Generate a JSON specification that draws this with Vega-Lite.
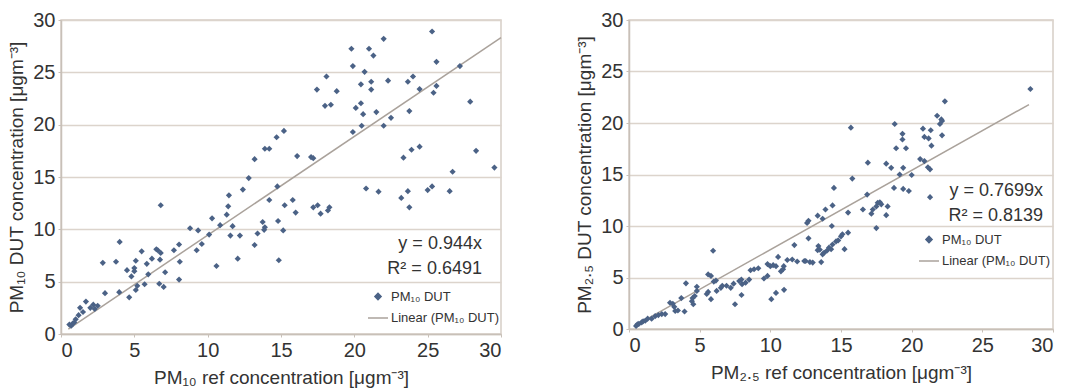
{
  "$schema": "https://vega.github.io/schema/vega-lite/v6.json",
  "padding": {"top": 9, "left": 7, "right": 2, "bottom": 2},
  "background": "white",
  "config": {
    "font": "Liberation Sans",
    "view": {"stroke": "#d6cec6", "strokeWidth": 1.5},
    "axis": {
      "labelFont": "Liberation Sans", "titleFont": "Liberation Sans",
      "labelFontSize": 20, "titleFontSize": 19, "titleFontWeight": "normal",
      "labelColor": "#333333", "titleColor": "#333333",
      "domainColor": "#c8c0b8", "domainWidth": 1.5, "tickColor": "#c8c0b8",
      "gridColor": "#dcd4cc", "gridWidth": 1.5, "tickSize": 3, "labelPadding": 3
    },
    "legend": {"labelFont": "Liberation Sans", "labelFontSize": 13, "labelColor": "#333333", "rowPadding": 3, "labelOffset": 2, "symbolStrokeWidth": 1.5}
  },
  "datasets": {
    "pm10": [
      {"x":0.57,"y":0.9},{"x":0.7,"y":0.8},{"x":0.8,"y":1.0},{"x":0.9,"y":1.1},{"x":1.0,"y":1.4},{"x":1.2,"y":1.8},{"x":1.3,"y":2.5},{"x":1.5,"y":2.1},{"x":1.7,"y":3.1},{"x":2.0,"y":2.5},{"x":2.2,"y":2.8},{"x":2.3,"y":2.4},{"x":2.5,"y":2.7},{"x":2.85,"y":6.8},{"x":3.0,"y":3.9},{"x":3.75,"y":6.9},{"x":3.97,"y":4.0},{"x":4.0,"y":8.8},{"x":4.5,"y":6.1},{"x":4.65,"y":3.5},{"x":4.8,"y":5.5},{"x":5.0,"y":6.3},{"x":5.0,"y":6.0},{"x":5.1,"y":7.0},{"x":5.1,"y":4.2},{"x":5.2,"y":4.6},{"x":5.5,"y":7.9},{"x":5.7,"y":4.75},{"x":5.85,"y":6.7},{"x":5.95,"y":5.7},{"x":6.2,"y":7.2},{"x":6.5,"y":8.1},{"x":6.6,"y":8.0},{"x":6.7,"y":4.8},{"x":6.75,"y":7.1},{"x":6.8,"y":7.75},{"x":6.8,"y":12.3},{"x":7.0,"y":4.5},{"x":7.1,"y":5.9},{"x":7.7,"y":8.0},{"x":8.05,"y":8.55},{"x":8.1,"y":6.9},{"x":8.05,"y":5.2},{"x":8.8,"y":10.1},{"x":9.25,"y":8.0},{"x":9.35,"y":9.9},{"x":9.6,"y":8.6},{"x":10.1,"y":9.5},{"x":10.3,"y":11.05},{"x":10.6,"y":6.5},{"x":10.85,"y":10.4},{"x":11.3,"y":11.4},{"x":11.4,"y":12.2},{"x":11.45,"y":13.25},{"x":11.55,"y":9.4},{"x":11.7,"y":10.3},{"x":12.05,"y":7.2},{"x":12.2,"y":9.4},{"x":12.4,"y":13.8},{"x":12.8,"y":14.9},{"x":13.2,"y":16.7},{"x":13.2,"y":8.5},{"x":13.4,"y":9.6},{"x":13.75,"y":10.7},{"x":13.85,"y":9.95},{"x":13.9,"y":10.2},{"x":13.9,"y":17.7},{"x":14.2,"y":17.7},{"x":14.2,"y":12.8},{"x":14.75,"y":14.1},{"x":14.7,"y":18.8},{"x":14.8,"y":10.8},{"x":14.85,"y":7.05},{"x":15.15,"y":9.9},{"x":15.2,"y":19.4},{"x":15.25,"y":12.3},{"x":15.8,"y":12.8},{"x":16.0,"y":11.6},{"x":16.1,"y":17.0},{"x":17.05,"y":16.9},{"x":17.2,"y":16.8},{"x":17.2,"y":12.1},{"x":17.45,"y":23.35},{"x":17.5,"y":12.3},{"x":17.7,"y":11.5},{"x":18.0,"y":21.8},{"x":18.1,"y":24.6},{"x":18.2,"y":11.8},{"x":18.3,"y":12.1},{"x":18.4,"y":21.9},{"x":18.8,"y":23.2},{"x":19.8,"y":27.25},{"x":19.9,"y":25.6},{"x":19.9,"y":19.3},{"x":20.1,"y":21.6},{"x":20.45,"y":23.85},{"x":20.45,"y":22.05},{"x":20.5,"y":19.9},{"x":20.6,"y":21.0},{"x":20.7,"y":25.05},{"x":20.8,"y":13.9},{"x":21.0,"y":27.25},{"x":21.15,"y":24.1},{"x":21.15,"y":23.35},{"x":21.3,"y":26.6},{"x":21.5,"y":21.2},{"x":21.65,"y":13.6},{"x":22.0,"y":28.2},{"x":22.0,"y":19.9},{"x":22.3,"y":24.2},{"x":22.5,"y":20.65},{"x":23.2,"y":13.0},{"x":23.35,"y":16.85},{"x":23.65,"y":24.1},{"x":23.65,"y":13.65},{"x":23.75,"y":21.3},{"x":23.75,"y":12.1},{"x":23.9,"y":17.6},{"x":24.0,"y":24.6},{"x":24.45,"y":23.4},{"x":24.45,"y":17.9},{"x":25.0,"y":13.75},{"x":25.3,"y":28.9},{"x":25.3,"y":14.1},{"x":25.4,"y":23.05},{"x":25.6,"y":26.0},{"x":25.6,"y":23.7},{"x":26.5,"y":13.65},{"x":26.7,"y":15.5},{"x":27.2,"y":25.6},{"x":27.9,"y":22.2},{"x":28.3,"y":17.5},{"x":29.55,"y":15.9}
    ],
    "pm25": [
      {"x":0.5,"y":0.3},{"x":0.6,"y":0.45},{"x":0.7,"y":0.5},{"x":0.9,"y":0.65},{"x":1.0,"y":0.75},{"x":1.15,"y":0.8},{"x":1.32,"y":1.0},{"x":1.6,"y":1.0},{"x":1.85,"y":1.25},{"x":2.08,"y":1.35},{"x":2.32,"y":1.45},{"x":2.56,"y":1.45},{"x":2.9,"y":2.55},{"x":3.1,"y":2.45},{"x":3.2,"y":2.15},{"x":3.27,"y":1.75},{"x":3.46,"y":1.8},{"x":3.7,"y":3.0},{"x":3.93,"y":1.7},{"x":4.03,"y":4.43},{"x":4.45,"y":2.7},{"x":4.55,"y":2.4},{"x":4.5,"y":3.0},{"x":4.65,"y":3.2},{"x":4.8,"y":3.7},{"x":4.8,"y":4.1},{"x":5.5,"y":3.4},{"x":5.6,"y":5.3},{"x":5.6,"y":3.6},{"x":5.8,"y":5.15},{"x":5.8,"y":2.9},{"x":5.95,"y":7.6},{"x":6.0,"y":4.6},{"x":6.15,"y":4.7},{"x":6.2,"y":3.7},{"x":6.5,"y":4.0},{"x":6.6,"y":4.2},{"x":6.9,"y":4.2},{"x":7.2,"y":4.0},{"x":7.4,"y":4.4},{"x":7.5,"y":2.4},{"x":7.8,"y":4.65},{"x":7.95,"y":4.8},{"x":7.96,"y":3.3},{"x":8.0,"y":4.35},{"x":8.25,"y":4.5},{"x":8.5,"y":4.8},{"x":8.6,"y":5.7},{"x":8.85,"y":5.8},{"x":9.15,"y":5.9},{"x":9.55,"y":4.9},{"x":9.8,"y":5.15},{"x":9.8,"y":6.3},{"x":10.0,"y":6.1},{"x":10.07,"y":2.9},{"x":10.2,"y":6.2},{"x":10.4,"y":3.5},{"x":10.4,"y":6.1},{"x":10.55,"y":7.0},{"x":10.75,"y":5.6},{"x":10.9,"y":5.8},{"x":10.97,"y":3.8},{"x":10.95,"y":6.1},{"x":11.2,"y":6.7},{"x":11.55,"y":6.75},{"x":11.7,"y":8.15},{"x":11.9,"y":6.55},{"x":12.4,"y":6.6},{"x":12.5,"y":6.6},{"x":12.6,"y":10.3},{"x":12.7,"y":8.8},{"x":12.8,"y":6.5},{"x":12.7,"y":10.5},{"x":13.0,"y":6.45},{"x":13.35,"y":11.0},{"x":13.35,"y":7.65},{"x":13.4,"y":8.05},{"x":13.5,"y":7.7},{"x":13.6,"y":6.5},{"x":13.7,"y":7.25},{"x":13.7,"y":10.7},{"x":13.8,"y":7.4},{"x":13.9,"y":11.6},{"x":14.0,"y":7.6},{"x":14.15,"y":7.9},{"x":14.3,"y":7.75},{"x":14.35,"y":10.0},{"x":14.4,"y":8.2},{"x":14.4,"y":12.0},{"x":14.5,"y":13.7},{"x":14.65,"y":8.5},{"x":14.8,"y":8.6},{"x":15.0,"y":9.0},{"x":15.1,"y":9.2},{"x":15.25,"y":7.75},{"x":15.5,"y":9.35},{"x":15.5,"y":11.3},{"x":15.7,"y":19.55},{"x":15.8,"y":14.6},{"x":16.55,"y":11.6},{"x":16.85,"y":13.05},{"x":16.9,"y":16.15},{"x":17.15,"y":11.2},{"x":17.25,"y":11.6},{"x":17.5,"y":11.9},{"x":17.5,"y":9.8},{"x":17.6,"y":12.25},{"x":17.75,"y":12.3},{"x":17.85,"y":12.1},{"x":18.2,"y":16.05},{"x":18.2,"y":11.05},{"x":18.3,"y":11.9},{"x":18.55,"y":15.65},{"x":18.75,"y":13.7},{"x":18.8,"y":19.9},{"x":18.9,"y":17.55},{"x":19.15,"y":15.0},{"x":19.35,"y":18.95},{"x":19.35,"y":18.4},{"x":19.4,"y":15.65},{"x":19.4,"y":13.6},{"x":19.6,"y":17.55},{"x":19.8,"y":13.4},{"x":20.0,"y":14.95},{"x":20.6,"y":16.5},{"x":20.8,"y":19.45},{"x":20.9,"y":16.3},{"x":20.9,"y":18.65},{"x":21.15,"y":15.7},{"x":21.2,"y":18.5},{"x":21.3,"y":15.5},{"x":21.3,"y":12.8},{"x":21.35,"y":19.3},{"x":21.4,"y":17.8},{"x":21.8,"y":20.7},{"x":22.0,"y":19.9},{"x":22.1,"y":20.35},{"x":22.15,"y":20.2},{"x":22.15,"y":18.8},{"x":22.35,"y":22.1},{"x":28.4,"y":23.3}
    ],
    "fit10": [{"x":0.5,"y":0.472,"series":"Linear (PM₁₀ DUT)"},{"x":30,"y":28.32,"series":"Linear (PM₁₀ DUT)"}],
    "fit25": [{"x":0.5,"y":0.385,"series":"Linear (PM₁₀ DUT)"},{"x":28.3,"y":21.79,"series":"Linear (PM₁₀ DUT)"}],
    "ann10": [{"x":28.7,"y":8.6,"t":"y = 0.944x"},{"x":28.7,"y":6.2,"t":"R² = 0.6491"}],
    "ann25": [{"x":29.3,"y":13.4,"t":"y = 0.7699x"},{"x":29.3,"y":11.0,"t":"R² = 0.8139"}]
  },
  "spacing": 70,
  "resolve": {
    "scale": {"color": "independent", "shape": "independent", "size": "independent"},
    "legend": {"color": "independent", "shape": "independent", "size": "independent"}
  },
  "hconcat": [
    {
      "width": 440, "height": 314,
      "encoding": {
        "x": {"field": "x", "type": "quantitative", "scale": {"domain": [0, 30], "nice": false}, "axis": {"values": [0,5,10,15,20,25,30], "grid": false, "title": "PM₁₀ ref concentration [μgm⁻³]", "titlePadding": 8}},
        "y": {"field": "y", "type": "quantitative", "scale": {"domain": [0, 30], "nice": false}, "axis": {"values": [0,5,10,15,20,25,30], "grid": true, "title": "PM₁₀ DUT concentration [μgm⁻³]", "titlePadding": 6}}
      },
      "layer": [
        {
          "data": {"name": "fit10"},
          "mark": {"type": "line", "strokeWidth": 1.5},
          "encoding": {"color": {"field": "series", "type": "nominal", "scale": {"domain": ["PM₁₀ DUT", "Linear (PM₁₀ DUT)"], "range": ["#4b6286", "#aaa29b"]}, "legend": {"title": null, "orient": "none", "legendX": 306, "legendY": 270}}}
        },
        {
          "data": {"name": "pm10"},
          "transform": [{"calculate": "'PM₁₀ DUT'", "as": "series"}],
          "mark": {"type": "point", "filled": true, "opacity": 1},
          "encoding": {
            "color": {"field": "series", "type": "nominal", "scale": {"domain": ["PM₁₀ DUT", "Linear (PM₁₀ DUT)"], "range": ["#4b6286", "#aaa29b"]}, "legend": {"title": null, "orient": "none", "legendX": 306, "legendY": 270}},
            "shape": {"field": "series", "type": "nominal", "scale": {"domain": ["PM₁₀ DUT", "Linear (PM₁₀ DUT)"], "range": ["diamond", "stroke"]}, "legend": {"title": null, "orient": "none", "legendX": 306, "legendY": 270}},
            "size": {"field": "series", "type": "nominal", "scale": {"domain": ["PM₁₀ DUT", "Linear (PM₁₀ DUT)"], "range": [38, 400]}, "legend": {"title": null, "orient": "none", "legendX": 306, "legendY": 270}}
          }
        },
        {
          "data": {"name": "ann10"},
          "mark": {"type": "text", "align": "right", "baseline": "middle", "fontSize": 18, "color": "#333333"},
          "encoding": {"text": {"field": "t"}}
        }
      ]
    },
    {
      "width": 424, "height": 309,
      "encoding": {
        "x": {"field": "x", "type": "quantitative", "scale": {"domain": [0, 30], "nice": false}, "axis": {"values": [0,5,10,15,20,25,30], "grid": false, "title": "PM₂.₅ ref concentration [μgm⁻³]", "titlePadding": 8}},
        "y": {"field": "y", "type": "quantitative", "scale": {"domain": [0, 30], "nice": false}, "axis": {"values": [0,5,10,15,20,25,30], "grid": true, "title": "PM₂.₅ DUT concentration [μgm⁻³]", "titlePadding": 6}}
      },
      "layer": [
        {
          "data": {"name": "fit25"},
          "mark": {"type": "line", "strokeWidth": 1.5},
          "encoding": {"color": {"field": "series", "type": "nominal", "scale": {"domain": ["PM₁₀ DUT", "Linear (PM₁₀ DUT)"], "range": ["#4b6286", "#aaa29b"]}, "legend": {"title": null, "orient": "none", "legendX": 289, "legendY": 213}}}
        },
        {
          "data": {"name": "pm25"},
          "transform": [{"calculate": "'PM₁₀ DUT'", "as": "series"}],
          "mark": {"type": "point", "filled": true, "opacity": 1},
          "encoding": {
            "color": {"field": "series", "type": "nominal", "scale": {"domain": ["PM₁₀ DUT", "Linear (PM₁₀ DUT)"], "range": ["#4b6286", "#aaa29b"]}, "legend": {"title": null, "orient": "none", "legendX": 289, "legendY": 213}},
            "shape": {"field": "series", "type": "nominal", "scale": {"domain": ["PM₁₀ DUT", "Linear (PM₁₀ DUT)"], "range": ["diamond", "stroke"]}, "legend": {"title": null, "orient": "none", "legendX": 289, "legendY": 213}},
            "size": {"field": "series", "type": "nominal", "scale": {"domain": ["PM₁₀ DUT", "Linear (PM₁₀ DUT)"], "range": [38, 400]}, "legend": {"title": null, "orient": "none", "legendX": 289, "legendY": 213}}
          }
        },
        {
          "data": {"name": "ann25"},
          "mark": {"type": "text", "align": "right", "baseline": "middle", "fontSize": 18, "color": "#333333"},
          "encoding": {"text": {"field": "t"}}
        }
      ]
    }
  ]
}
